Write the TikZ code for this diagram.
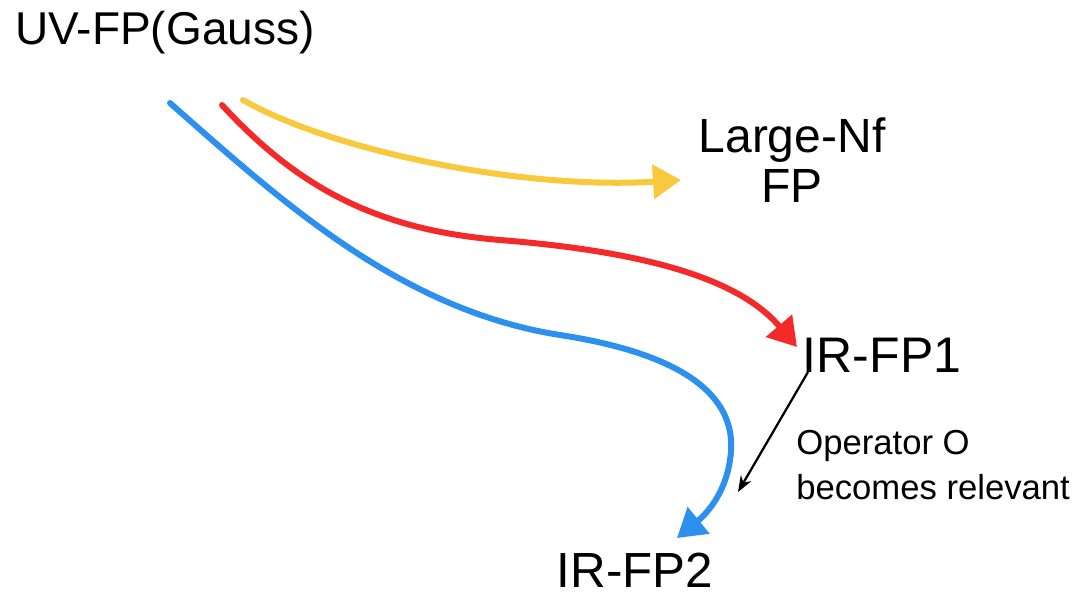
\documentclass[tikz,border=0pt]{standalone}
\usepackage{fontspec}
\setmainfont{Liberation Sans}
\usetikzlibrary{arrows.meta}
\definecolor{cyel}{HTML}{F8C93C}
\definecolor{cred}{HTML}{F42A2A}
\definecolor{cblue}{HTML}{2E90EE}
\begin{document}
\begin{tikzpicture}[x=0.75pt,y=-0.75pt,
  big/.style={font=\fontsize{34.5}{37}\selectfont, inner sep=0pt},
  small/.style={font=\fontsize{26}{34}\selectfont, inner sep=0pt, align=left},
  flow/.style={line width=4.5pt, line cap=round, -{Triangle[length=21pt,width=25pt]}},
  thin/.style={line width=1.7pt, -{Stealth[length=12pt,width=9pt]}}]
\useasboundingbox (0,0) rectangle (1080,597);
\node[big] (uv) at (165,33) {UV-FP(Gauss)};
\node[big, align=center, font=\fontsize{36}{37.5}\selectfont] (lnf) at (792,160) {Large-Nf\\FP};
\node[big, font=\fontsize{37.5}{40}\selectfont] (ir1) at (882,355) {IR-FP1};
\node[big, font=\fontsize{37}{40}\selectfont] (ir2) at (635,570) {IR-FP2};
\node[small, anchor=west] (op) at (796,465) {Operator O\\becomes relevant};
\coordinate (ys) at (243,100);
\coordinate (ye) at (681,180);
\coordinate (rs) at (222,105);
\coordinate (re) at (797,347);
\coordinate (bs) at (170,103);
\coordinate (be) at (677,538);
\coordinate (ks) at (808,372);
\coordinate (ke) at (738,492);
\draw[flow, draw=cyel] (ys) .. controls (330,150) and (520,190) .. (ye);
\draw[flow, draw=cred] (rs) .. controls (300,190) and (380,230) .. (500,240)
   .. controls (650,252) and (740,280) .. (re);
\draw[flow, draw=cblue] (bs) .. controls (280,200) and (400,310) .. (560,335)
   .. controls (690,355) and (740,400) .. (730,460) .. controls (725,495) and (705,515) .. (be);
\draw[thin] (ks) -- (ke);
\end{tikzpicture}
\end{document}
